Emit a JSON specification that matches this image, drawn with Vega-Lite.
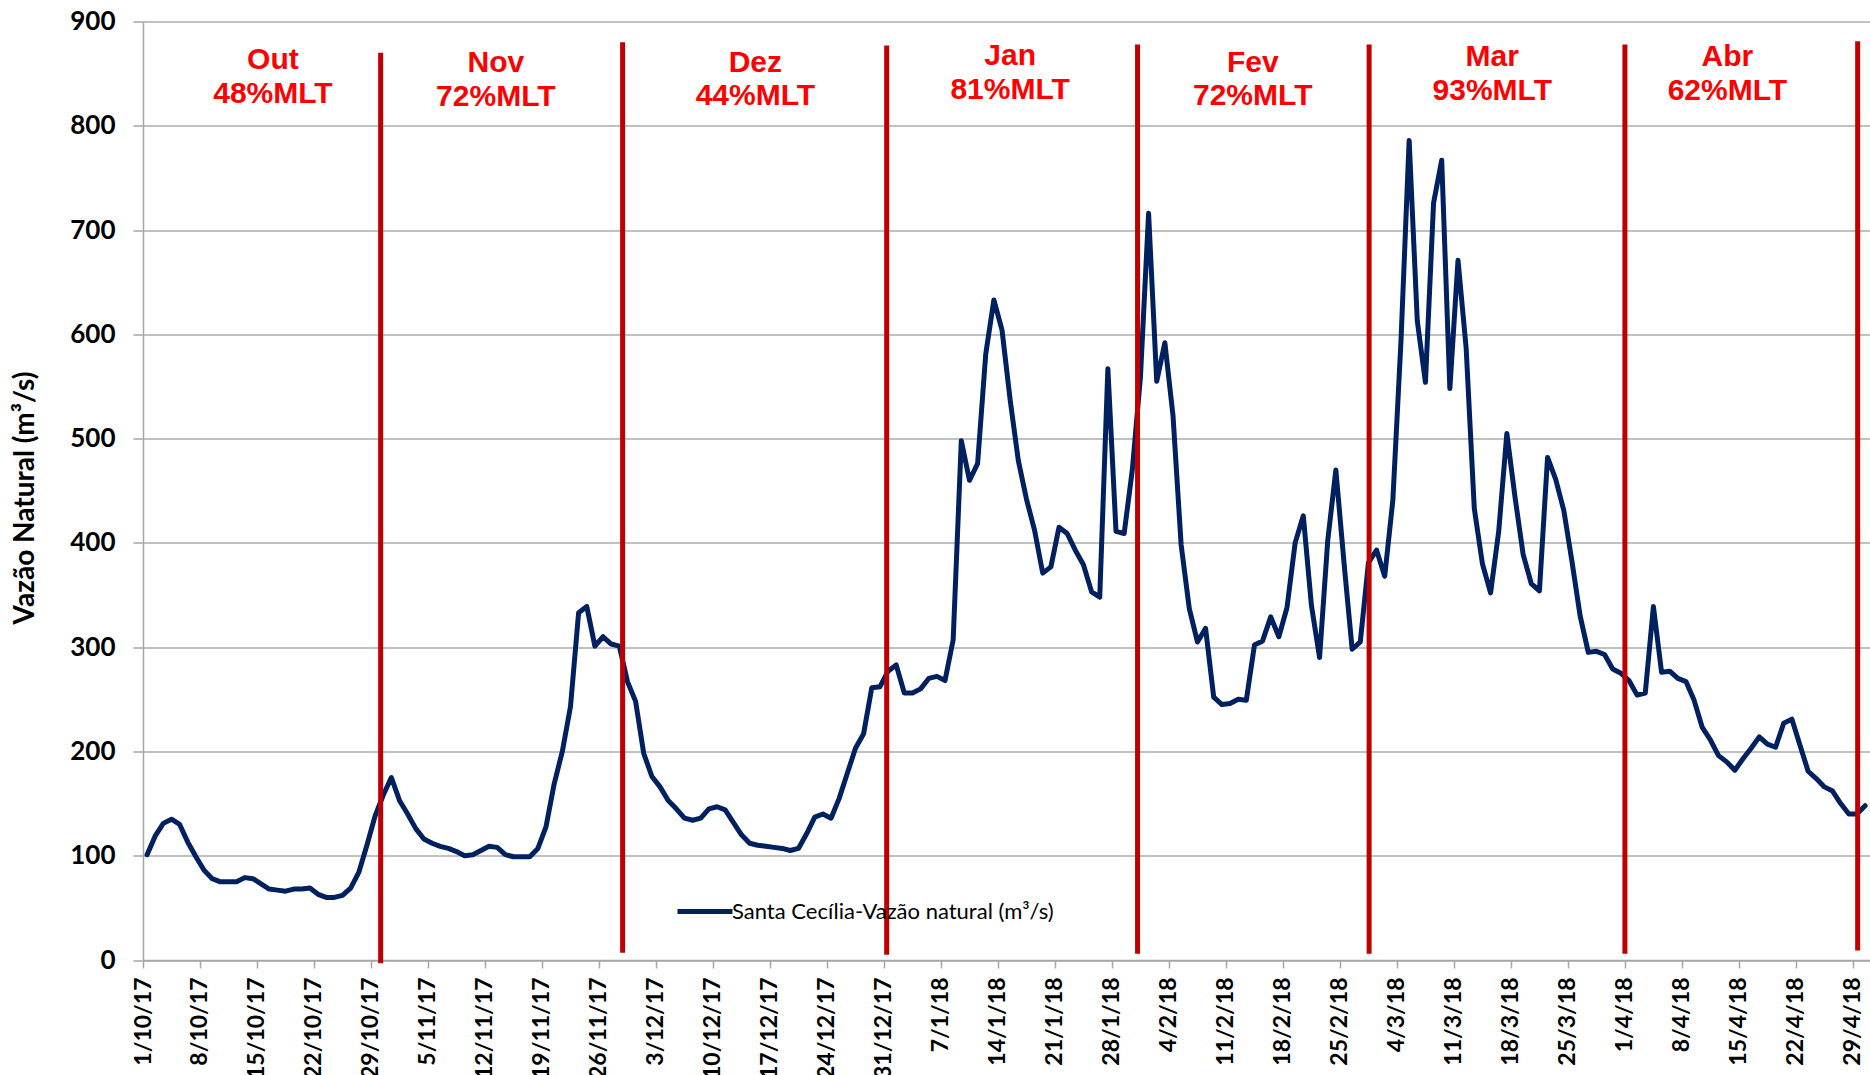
{
  "$schema": "https://vega.github.io/schema/vega-lite/v6.json",
  "width": 1727,
  "height": 938.5,
  "autosize": {"type": "none"},
  "padding": {"left": 143, "top": 21.5, "right": 0, "bottom": 115},
  "background": "white",
  "config": {
    "view": {"stroke": null},
    "axisX": {
      "title": null,
      "labelExpr": "utcFormat(datum.value, '%-d/%-m/%y')",
      "labelAngle": -90,
      "labelAlign": "right",
      "labelBaseline": "middle",
      "labelOverlap": false,
      "labelFlush": false,
      "labelFont": "Lato",
      "labelFontSize": 23,
      "labelFontWeight": "bold",
      "labelColor": "#000000",
      "labelPadding": 9,
      "tickSize": 8,
      "tickWidth": 1.5,
      "tickColor": "#A6A6A6",
      "domainColor": "#A6A6A6",
      "domainWidth": 1.5,
      "grid": false
    },
    "axisY": {
      "titleFont": "Lato",
      "titleFontSize": 28,
      "titleFontWeight": "bold",
      "titleColor": "#000000",
      "titlePadding": 30,
      "titleY": 476,
      "labelFont": "Lato",
      "labelFontSize": 26,
      "labelFontWeight": "bold",
      "labelColor": "#000000",
      "labelPadding": 18,
      "tickSize": 10,
      "tickWidth": 1.5,
      "tickColor": "#A6A6A6",
      "domainColor": "#A6A6A6",
      "domainWidth": 1.5,
      "grid": true,
      "gridColor": "#ADADAD",
      "gridWidth": 1.5
    }
  },
  "datasets": {
    "flow": [
      {"d":"2017-10-01","v":101},{"d":"2017-10-02","v":119},{"d":"2017-10-03","v":131},{"d":"2017-10-04","v":135},{"d":"2017-10-05","v":130},{"d":"2017-10-06","v":113},{"d":"2017-10-07","v":99},{"d":"2017-10-08","v":86},{"d":"2017-10-09","v":78},{"d":"2017-10-10","v":75},{"d":"2017-10-11","v":75},{"d":"2017-10-12","v":75},{"d":"2017-10-13","v":79},{"d":"2017-10-14","v":78},{"d":"2017-10-15","v":73},{"d":"2017-10-16","v":68},{"d":"2017-10-17","v":67},{"d":"2017-10-18","v":66},{"d":"2017-10-19","v":68},{"d":"2017-10-20","v":68},{"d":"2017-10-21","v":69},{"d":"2017-10-22","v":63},{"d":"2017-10-23","v":60},{"d":"2017-10-24","v":60},{"d":"2017-10-25","v":62},{"d":"2017-10-26","v":69},{"d":"2017-10-27","v":84},{"d":"2017-10-28","v":110},{"d":"2017-10-29","v":138},{"d":"2017-10-30","v":158},{"d":"2017-10-31","v":175},
      {"d":"2017-11-01","v":153},{"d":"2017-11-02","v":140},{"d":"2017-11-03","v":126},{"d":"2017-11-04","v":116},{"d":"2017-11-05","v":112},{"d":"2017-11-06","v":109},{"d":"2017-11-07","v":107},{"d":"2017-11-08","v":104},{"d":"2017-11-09","v":100},{"d":"2017-11-10","v":101},{"d":"2017-11-11","v":105},{"d":"2017-11-12","v":109},{"d":"2017-11-13","v":108},{"d":"2017-11-14","v":101},{"d":"2017-11-15","v":99},{"d":"2017-11-16","v":99},{"d":"2017-11-17","v":99},{"d":"2017-11-18","v":107},{"d":"2017-11-19","v":128},{"d":"2017-11-20","v":169},{"d":"2017-11-21","v":200},{"d":"2017-11-22","v":243},{"d":"2017-11-23","v":333},{"d":"2017-11-24","v":339},{"d":"2017-11-25","v":301},{"d":"2017-11-26","v":310},{"d":"2017-11-27","v":303},{"d":"2017-11-28","v":301},{"d":"2017-11-29","v":267},{"d":"2017-11-30","v":248},
      {"d":"2017-12-01","v":198},{"d":"2017-12-02","v":176},{"d":"2017-12-03","v":166},{"d":"2017-12-04","v":153},{"d":"2017-12-05","v":145},{"d":"2017-12-06","v":136},{"d":"2017-12-07","v":134},{"d":"2017-12-08","v":136},{"d":"2017-12-09","v":145},{"d":"2017-12-10","v":147},{"d":"2017-12-11","v":144},{"d":"2017-12-12","v":132},{"d":"2017-12-13","v":120},{"d":"2017-12-14","v":112},{"d":"2017-12-15","v":110},{"d":"2017-12-16","v":109},{"d":"2017-12-17","v":108},{"d":"2017-12-18","v":107},{"d":"2017-12-19","v":105},{"d":"2017-12-20","v":107},{"d":"2017-12-21","v":121},{"d":"2017-12-22","v":137},{"d":"2017-12-23","v":140},{"d":"2017-12-24","v":136},{"d":"2017-12-25","v":155},{"d":"2017-12-26","v":179},{"d":"2017-12-27","v":203},{"d":"2017-12-28","v":217},{"d":"2017-12-29","v":261},{"d":"2017-12-30","v":262},{"d":"2017-12-31","v":277},
      {"d":"2018-01-01","v":283},{"d":"2018-01-02","v":256},{"d":"2018-01-03","v":256},{"d":"2018-01-04","v":260},{"d":"2018-01-05","v":270},{"d":"2018-01-06","v":272},{"d":"2018-01-07","v":268},{"d":"2018-01-08","v":307},{"d":"2018-01-09","v":498},{"d":"2018-01-10","v":460},{"d":"2018-01-11","v":476},{"d":"2018-01-12","v":581},{"d":"2018-01-13","v":633},{"d":"2018-01-14","v":604},{"d":"2018-01-15","v":537},{"d":"2018-01-16","v":479},{"d":"2018-01-17","v":442},{"d":"2018-01-18","v":412},{"d":"2018-01-19","v":371},{"d":"2018-01-20","v":377},{"d":"2018-01-21","v":415},{"d":"2018-01-22","v":409},{"d":"2018-01-23","v":393},{"d":"2018-01-24","v":379},{"d":"2018-01-25","v":353},{"d":"2018-01-26","v":348},{"d":"2018-01-27","v":567},{"d":"2018-01-28","v":411},{"d":"2018-01-29","v":409},{"d":"2018-01-30","v":470},{"d":"2018-01-31","v":559},
      {"d":"2018-02-01","v":716},{"d":"2018-02-02","v":555},{"d":"2018-02-03","v":592},{"d":"2018-02-04","v":522},{"d":"2018-02-05","v":398},{"d":"2018-02-06","v":337},{"d":"2018-02-07","v":305},{"d":"2018-02-08","v":318},{"d":"2018-02-09","v":252},{"d":"2018-02-10","v":245},{"d":"2018-02-11","v":246},{"d":"2018-02-12","v":250},{"d":"2018-02-13","v":249},{"d":"2018-02-14","v":302},{"d":"2018-02-15","v":306},{"d":"2018-02-16","v":329},{"d":"2018-02-17","v":310},{"d":"2018-02-18","v":338},{"d":"2018-02-19","v":400},{"d":"2018-02-20","v":426},{"d":"2018-02-21","v":340},{"d":"2018-02-22","v":290},{"d":"2018-02-23","v":402},{"d":"2018-02-24","v":470},{"d":"2018-02-25","v":381},{"d":"2018-02-26","v":298},{"d":"2018-02-27","v":305},{"d":"2018-02-28","v":381},
      {"d":"2018-03-01","v":393},{"d":"2018-03-02","v":368},{"d":"2018-03-03","v":441},{"d":"2018-03-04","v":594},{"d":"2018-03-05","v":786},{"d":"2018-03-06","v":613},{"d":"2018-03-07","v":554},{"d":"2018-03-08","v":726},{"d":"2018-03-09","v":767},{"d":"2018-03-10","v":548},{"d":"2018-03-11","v":671},{"d":"2018-03-12","v":587},{"d":"2018-03-13","v":433},{"d":"2018-03-14","v":380},{"d":"2018-03-15","v":352},{"d":"2018-03-16","v":411},{"d":"2018-03-17","v":505},{"d":"2018-03-18","v":444},{"d":"2018-03-19","v":389},{"d":"2018-03-20","v":361},{"d":"2018-03-21","v":354},{"d":"2018-03-22","v":482},{"d":"2018-03-23","v":461},{"d":"2018-03-24","v":431},{"d":"2018-03-25","v":382},{"d":"2018-03-26","v":330},{"d":"2018-03-27","v":295},{"d":"2018-03-28","v":296},{"d":"2018-03-29","v":293},{"d":"2018-03-30","v":279},{"d":"2018-03-31","v":275},
      {"d":"2018-04-01","v":268},{"d":"2018-04-02","v":254},{"d":"2018-04-03","v":256},{"d":"2018-04-04","v":339},{"d":"2018-04-05","v":276},{"d":"2018-04-06","v":277},{"d":"2018-04-07","v":270},{"d":"2018-04-08","v":267},{"d":"2018-04-09","v":249},{"d":"2018-04-10","v":223},{"d":"2018-04-11","v":211},{"d":"2018-04-12","v":196},{"d":"2018-04-13","v":190},{"d":"2018-04-14","v":182},{"d":"2018-04-15","v":193},{"d":"2018-04-16","v":203},{"d":"2018-04-17","v":214},{"d":"2018-04-18","v":207},{"d":"2018-04-19","v":204},{"d":"2018-04-20","v":227},{"d":"2018-04-21","v":231},{"d":"2018-04-22","v":206},{"d":"2018-04-23","v":181},{"d":"2018-04-24","v":174},{"d":"2018-04-25","v":166},{"d":"2018-04-26","v":162},{"d":"2018-04-27","v":150},{"d":"2018-04-28","v":140},{"d":"2018-04-29","v":140},{"d":"2018-04-30","v":148}
    ],
    "months": [
      {"t":"2017-10-30T04:30:00Z","top":870,"bot":-3},
      {"t":"2017-11-28T21:40:00Z","top":880,"bot":7},
      {"t":"2017-12-31T08:00:00Z","top":877,"bot":5},
      {"t":"2018-01-31T03:30:00Z","top":878,"bot":6},
      {"t":"2018-02-28T14:00:00Z","top":878,"bot":6},
      {"t":"2018-04-01T00:00:00Z","top":878,"bot":6},
      {"t":"2018-04-29T14:00:00Z","top":881,"bot":9}
    ],
    "labels": [
      {"t":"2017-10-16T23:00:00Z","v":854.4,"label":"Out"},
      {"t":"2017-10-16T23:00:00Z","v":821.5,"label":"48%MLT"},
      {"t":"2017-11-13T08:00:00Z","v":851.9,"label":"Nov"},
      {"t":"2017-11-13T08:00:00Z","v":819,"label":"72%MLT"},
      {"t":"2017-12-15T05:00:00Z","v":852,"label":"Dez"},
      {"t":"2017-12-15T05:00:00Z","v":820,"label":"44%MLT"},
      {"t":"2018-01-15T12:00:00Z","v":858.7,"label":"Jan"},
      {"t":"2018-01-15T12:00:00Z","v":825.7,"label":"81%MLT"},
      {"t":"2018-02-14T07:00:00Z","v":852,"label":"Fev"},
      {"t":"2018-02-14T07:00:00Z","v":820,"label":"72%MLT"},
      {"t":"2018-03-15T17:00:00Z","v":857.7,"label":"Mar"},
      {"t":"2018-03-15T17:00:00Z","v":824.5,"label":"93%MLT"},
      {"t":"2018-04-13T14:00:00Z","v":857.7,"label":"Abr"},
      {"t":"2018-04-13T14:00:00Z","v":824.5,"label":"62%MLT"}
    ]
  },
  "layer": [
    {
      "data": {"name": "flow"},
      "mark": {"type": "line", "strokeWidth": 5, "strokeJoin": "round", "strokeCap": "round"},
      "encoding": {
        "x": {
          "field": "d", "type": "temporal", "timeUnit": "utcyearmonthdate", "bandPosition": 0.5,
          "scale": {"type": "utc", "domain": [{"year":2017,"month":10,"date":1,"utc":true},{"year":2018,"month":5,"date":1,"hours":2,"minutes":24,"utc":true}], "nice": false},
          "axis": {
            "values": [
              {"year":2017,"month":10,"date":1,"utc":true},{"year":2017,"month":10,"date":8,"utc":true},{"year":2017,"month":10,"date":15,"utc":true},{"year":2017,"month":10,"date":22,"utc":true},{"year":2017,"month":10,"date":29,"utc":true},
              {"year":2017,"month":11,"date":5,"utc":true},{"year":2017,"month":11,"date":12,"utc":true},{"year":2017,"month":11,"date":19,"utc":true},{"year":2017,"month":11,"date":26,"utc":true},
              {"year":2017,"month":12,"date":3,"utc":true},{"year":2017,"month":12,"date":10,"utc":true},{"year":2017,"month":12,"date":17,"utc":true},{"year":2017,"month":12,"date":24,"utc":true},{"year":2017,"month":12,"date":31,"utc":true},
              {"year":2018,"month":1,"date":7,"utc":true},{"year":2018,"month":1,"date":14,"utc":true},{"year":2018,"month":1,"date":21,"utc":true},{"year":2018,"month":1,"date":28,"utc":true},
              {"year":2018,"month":2,"date":4,"utc":true},{"year":2018,"month":2,"date":11,"utc":true},{"year":2018,"month":2,"date":18,"utc":true},{"year":2018,"month":2,"date":25,"utc":true},
              {"year":2018,"month":3,"date":4,"utc":true},{"year":2018,"month":3,"date":11,"utc":true},{"year":2018,"month":3,"date":18,"utc":true},{"year":2018,"month":3,"date":25,"utc":true},
              {"year":2018,"month":4,"date":1,"utc":true},{"year":2018,"month":4,"date":8,"utc":true},{"year":2018,"month":4,"date":15,"utc":true},{"year":2018,"month":4,"date":22,"utc":true},{"year":2018,"month":4,"date":29,"utc":true}
            ]
          }
        },
        "y": {
          "field": "v", "type": "quantitative",
          "scale": {"domain": [0, 900], "nice": false, "zero": true},
          "axis": {
            "title": "Vazão Natural  (m³/s)",
            "values": [0,100,200,300,400,500,600,700,800,900]
          }
        },
        "color": {
          "datum": "Santa Cecília-Vazão natural (m³/s)",
          "type": "nominal",
          "scale": {"range": ["#002060"]},
          "legend": {
            "title": null,
            "orient": "none",
            "legendX": 532,
            "legendY": 860,
            "padding": 0,
            "symbolType": "stroke",
            "symbolSize": 3025,
            "symbolStrokeWidth": 5,
            "labelFont": "Lato",
            "labelFontSize": 22,
            "labelColor": "#000000",
            "labelOffset": -3,
            "labelLimit": 0
          }
        }
      }
    },
    {
      "data": {"name": "months"},
      "mark": {"type": "rule", "color": "#C00000", "strokeWidth": 5},
      "encoding": {
        "x": {"field": "t", "type": "temporal", "scale": {"type": "utc", "domain": [{"year":2017,"month":10,"date":1,"utc":true},{"year":2018,"month":5,"date":1,"hours":2,"minutes":24,"utc":true}], "nice": false}},
        "y": {"field": "top", "type": "quantitative", "scale": {"domain": [0, 900], "nice": false, "zero": true}},
        "y2": {"field": "bot"}
      }
    },
    {
      "data": {"name": "labels"},
      "mark": {"type": "text", "color": "#FF0000", "font": "Liberation Sans", "fontSize": 30, "fontWeight": "bold", "align": "center", "baseline": "alphabetic"},
      "encoding": {
        "x": {"field": "t", "type": "temporal", "scale": {"type": "utc", "domain": [{"year":2017,"month":10,"date":1,"utc":true},{"year":2018,"month":5,"date":1,"hours":2,"minutes":24,"utc":true}], "nice": false}},
        "y": {"field": "v", "type": "quantitative", "scale": {"domain": [0, 900], "nice": false, "zero": true}},
        "text": {"field": "label"}
      }
    }
  ]
}
